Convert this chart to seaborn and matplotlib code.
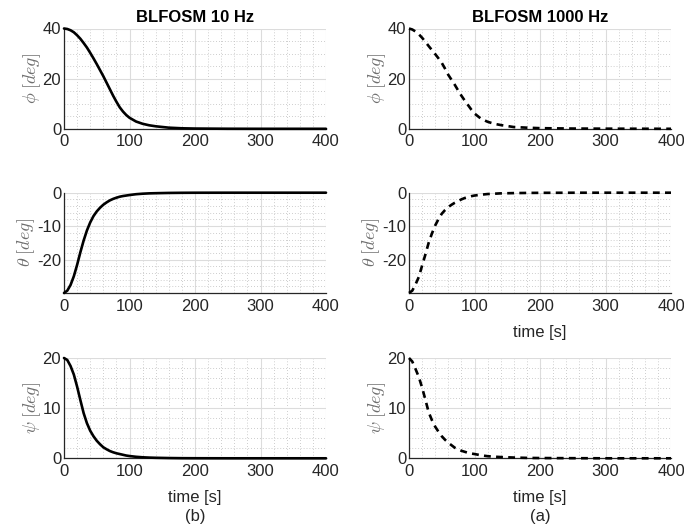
import matplotlib
matplotlib.use("Agg")
import matplotlib.pyplot as plt
import seaborn as sns
import pandas as pd
from matplotlib.ticker import MultipleLocator

# ---- data ----
time_s = [0, 5, 10, 15, 20, 25, 30, 35, 40, 45, 50, 55, 60, 65, 70, 75, 80, 85, 90,
          95, 100, 110, 120, 130, 140, 160, 180, 200, 250, 300, 400]

phi_10hz = [40, 39.8, 39.3, 38.5, 37.3, 35.9, 34.2, 32.4, 30.3, 28.1, 25.8, 23.4,
            21.0, 18.4, 15.8, 13.2, 10.8, 8.6, 6.9, 5.5, 4.4, 2.9, 2.0, 1.4, 1.0,
            0.45, 0.2, 0.1, 0.02, 0, 0]
theta_10hz = [-30, -29.3, -27.6, -25.0, -21.6, -17.8, -14.3, -11.3, -8.9, -7.0, -5.6,
              -4.5, -3.6, -2.9, -2.3, -1.85, -1.5, -1.2, -1.0, -0.85, -0.7, -0.45,
              -0.3, -0.2, -0.15, -0.07, -0.03, -0.01, 0, 0, 0]
psi_10hz = [20, 19.6, 18.4, 16.7, 14.3, 11.6, 9.0, 7.0, 5.5, 4.4, 3.5, 2.8, 2.2, 1.8,
            1.45, 1.2, 1.0, 0.85, 0.7, 0.55, 0.45, 0.3, 0.2, 0.14, 0.1, 0.05, 0.02,
            0.01, 0, 0, 0]

phi_1000hz = [40, 39.6, 38.8, 37.7, 36.3, 34.7, 33.0, 31.4, 29.8, 28.1, 26.3, 24.0,
              21.5, 19.5, 17.5, 15.3, 13.2, 11.3, 9.5, 7.7, 6.1, 4.0, 2.8, 2.0, 1.5,
              0.7, 0.45, 0.25, 0.1, 0.05, 0]
theta_1000hz = [-30, -29.3, -27.4, -25.2, -21.8, -18.5, -15.0, -12.2, -9.8, -7.9,
                -6.3, -5.2, -4.3, -3.6, -3.0, -2.5, -2.0, -1.6, -1.3, -1.05, -0.85,
                -0.6, -0.4, -0.3, -0.2, -0.12, -0.07, -0.04, -0.01, 0, 0]
psi_1000hz = [20, 19.3, 17.8, 16.2, 14.1, 11.7, 9.2, 7.6, 6.3, 5.3, 4.4, 3.7, 3.1,
              2.6, 2.1, 1.8, 1.5, 1.3, 1.1, 0.95, 0.85, 0.6, 0.42, 0.32, 0.25, 0.15,
              0.08, 0.05, 0.02, 0, 0]

titles = ["BLFOSM 10 Hz", "BLFOSM 1000 Hz"]
ylabels = [r"$\phi\;[deg]$", r"$\theta\;[deg]$", r"$\psi\;[deg]$"]
xticks = [0, 100, 200, 300, 400]
yticks = [[0, 20, 40], [-20, -10, 0], [0, 10, 20]]
ylims = [(0, 40), (-30, 0), (0, 20)]
yminor = [5, 2, 2]
captions = ["(b)", "(a)"]

# ---- style ----
sns.set_style("white")
plt.rcParams["font.family"] = ["Liberation Sans", "DejaVu Sans"]
plt.rcParams["mathtext.fontset"] = "cm"
plt.rcParams["axes.unicode_minus"] = False

fig = plt.figure(figsize=(6.84, 5.30), dpi=100)

W, H = 684, 530
col_x = [64, 409]
ax_w = 262
row_top = [28.5, 192.7, 358]
ax_h = 100.3

series = [[phi_10hz, theta_10hz, psi_10hz], [phi_1000hz, theta_1000hz, psi_1000hz]]
axc = "#262626"
fs = 12

for c in range(2):
    for r in range(3):
        ax = fig.add_axes([col_x[c] / W, 1 - (row_top[r] + ax_h) / H, ax_w / W, ax_h / H])
        df = pd.DataFrame({"t": time_s, "v": series[c][r]})
        sns.lineplot(data=df, x="t", y="v", ax=ax, color="black", linewidth=1.9,
                     clip_on=False, zorder=5)
        if c == 1:
            ax.lines[-1].set_linestyle((0, (2.6, 2.0)))
        ax.set_xlim(0, 400)
        ax.set_ylim(*ylims[r])
        ax.set_xticks(xticks)
        ax.set_yticks(yticks[r])
        ax.xaxis.set_minor_locator(MultipleLocator(20))
        ax.yaxis.set_minor_locator(MultipleLocator(yminor[r]))
        ax.grid(True, which="major", color="#dcdcdc", linewidth=0.8, linestyle="-")
        ax.grid(True, which="minor", color="#bdbdbd", linewidth=0.6, linestyle=(0, (1, 2.5)))
        ax.set_axisbelow(True)
        for s in ["top", "right"]:
            ax.spines[s].set_visible(False)
        for s in ["left", "bottom"]:
            ax.spines[s].set_color(axc)
            ax.spines[s].set_linewidth(0.9)
        ax.tick_params(which="major", direction="in", length=3, width=0.7,
                       colors=axc, labelsize=fs)
        ax.tick_params(axis="x", which="major", pad=4)
        ax.tick_params(axis="y", which="major", pad=2)
        ax.tick_params(which="minor", length=0)
        ax.set_ylabel(ylabels[r], fontsize=13, color="#6e6e6e", labelpad=0)
        if (r == 2) or (c == 1 and r == 1):
            ax.set_xlabel("time [s]", fontsize=fs, color=axc, labelpad=8)
        else:
            ax.set_xlabel("")
        if r == 0:
            ax.set_title(titles[c], fontsize=fs, fontweight="bold", color="black", pad=5)

for c in range(2):
    fig.text((col_x[c] + ax_w / 2) / W, 1 - 517 / H, captions[c], ha="center", va="center",
             fontsize=fs, color=axc)

fig.savefig("out.png", dpi=100)
